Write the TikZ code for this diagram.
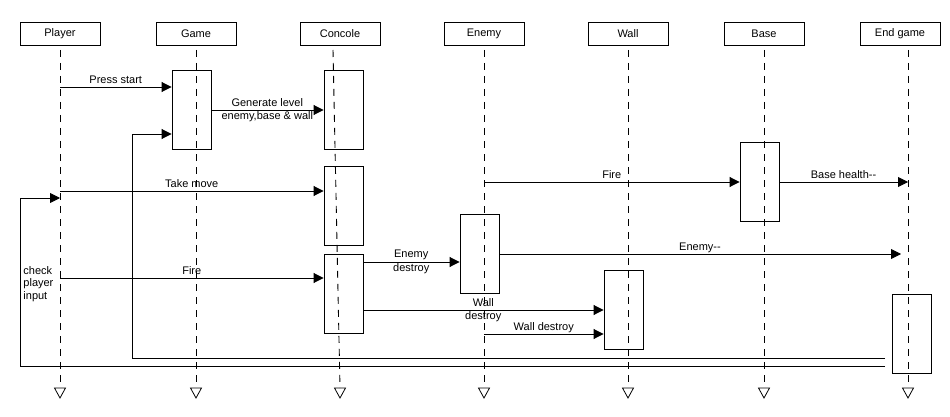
\documentclass[tikz,border=0pt]{standalone}
\usepackage{fontspec}
\setmainfont{Liberation Sans}
\usetikzlibrary{arrows.meta}
\begin{document}
\begin{tikzpicture}[x=1pt,y=-1pt, line width=0.9pt,
  font=\fontsize{11}{13.5}\selectfont,
  head/.style={draw, minimum width=80pt, minimum height=23pt, inner sep=0pt},
  act/.style={draw, minimum width=39pt, minimum height=79pt, inner sep=0pt},
  life/.style={dash pattern=on 7pt off 6pt},
  endtri/.style={line width=0.8pt},
  msg/.style={-{Triangle[length=10pt,width=10pt]}},
  lbl/.style={anchor=base, yshift=3.5pt, inner sep=0pt},
  lbl2/.style={align=center, inner sep=0pt}]
\useasboundingbox (0,0) rectangle (950,417);
% headers
\node[head] (hPlayer) at (60,33.5) {Player};
\node[head] (hGame) at (196,33.5) {Game};
\node[head] (hCon) at (340,33.5) {Concole};
\node[head] (hEnemy) at (484,33.5) {Enemy};
\node[head] (hWall) at (628,33.5) {Wall};
\node[head] (hBase) at (764,33.5) {Base};
\node[head] (hEnd) at (900,33.5) {End game};
% lifelines
\coordinate (tPlayer) at (60,50);  \coordinate (ePlayer) at (60,388);
\coordinate (tGame) at (196,50);   \coordinate (eGame) at (196,388);
\coordinate (tCon) at (333,50);    \coordinate (eCon) at (340,388);
\coordinate (tEnemy) at (484,50);  \coordinate (eEnemy) at (484,388);
\coordinate (tWall) at (628,50);   \coordinate (eWall) at (628,388);
\coordinate (tBase) at (764,50);   \coordinate (eBase) at (764,388);
\coordinate (tEnd) at (908,50);    \coordinate (eEnd) at (908,388);
\foreach \n in {Player,Game,Con,Enemy,Wall,Base,End}{
  \draw[life] (t\n) -- (e\n);
  \draw[endtri] (e\n) ++(-5.5,0) -- ++(11,0) -- ++(-5.5,10) -- cycle;
}
% activations
\node[act] (aGame) at (191.5,109.5) {};
\node[act] (aCon1) at (343.5,109.5) {};
\node[act] (aCon2) at (343.5,205.5) {};
\node[act] (aCon3) at (343.5,293.5) {};
\node[act] (aEnemy) at (479.5,253.5) {};
\node[act] (aBase) at (759.5,181.5) {};
\node[act] (aWall) at (623.5,309.5) {};
\node[act] (aEnd) at (911.5,333.5) {};
% messages
\coordinate (mPress) at (60,87);
\draw[msg] (mPress) -- (mPress -| aGame.west) node[midway,lbl] {Press start};
\coordinate (mGen) at (211,110);
\draw[msg] (mGen) -- (mGen -| aCon1.west) node[midway,lbl2] {Generate level\\enemy,base \& wall};
\coordinate (mTake) at (60,191);
\draw[msg] (mTake) -- (mTake -| aCon2.west) node[midway,lbl] {Take move};
\coordinate (mFire) at (60,278);
\draw[msg] (mFire) -- (mFire -| aCon3.west) node[midway,lbl] {Fire};
\coordinate (mED) at (363,262);
\draw[msg] (mED) -- (mED -| aEnemy.west) node[midway,lbl2] {Enemy\\destroy};
\coordinate (mWD) at (363,310);
\draw[msg] (mWD) -- (mWD -| aWall.west) node[midway,lbl2] {Wall\\destroy};
\coordinate (mWD2) at (484,334);
\draw[msg] (mWD2) -- (mWD2 -| aWall.west) node[midway,lbl] {Wall destroy};
\coordinate (mEF) at (484,182);
\draw[msg] (mEF) -- (mEF -| aBase.west) node[midway,lbl] {Fire};
\coordinate (mBH) at (779,182);
\coordinate (mBHe) at (908,182);
\draw[msg] (mBH) -- (mBHe) node[midway,lbl] {Base health-{}-};
\coordinate (mEm) at (499,254);
\coordinate (mEme) at (901,254);
\draw[msg] (mEm) -- (mEme) node[midway,lbl] {Enemy-{}-};
% loops
\coordinate (l1s) at (885,358);
\coordinate (l1a) at (132,358);
\coordinate (l1b) at (132,134);
\draw[msg] (l1s) -- (l1a) -- (l1b) -- (l1b -| aGame.west);
\coordinate (l2s) at (885,366);
\coordinate (l2a) at (20,366);
\coordinate (l2b) at (20,198);
\draw[msg] (l2s) -- (l2a) -- (l2b) -- (l2b -| ePlayer);
\node[anchor=north west, align=left, inner sep=0pt, font=\fontsize{11}{12.5}\selectfont] (chk) at (23,266) {check\\player\\input};
\end{tikzpicture}
\end{document}
